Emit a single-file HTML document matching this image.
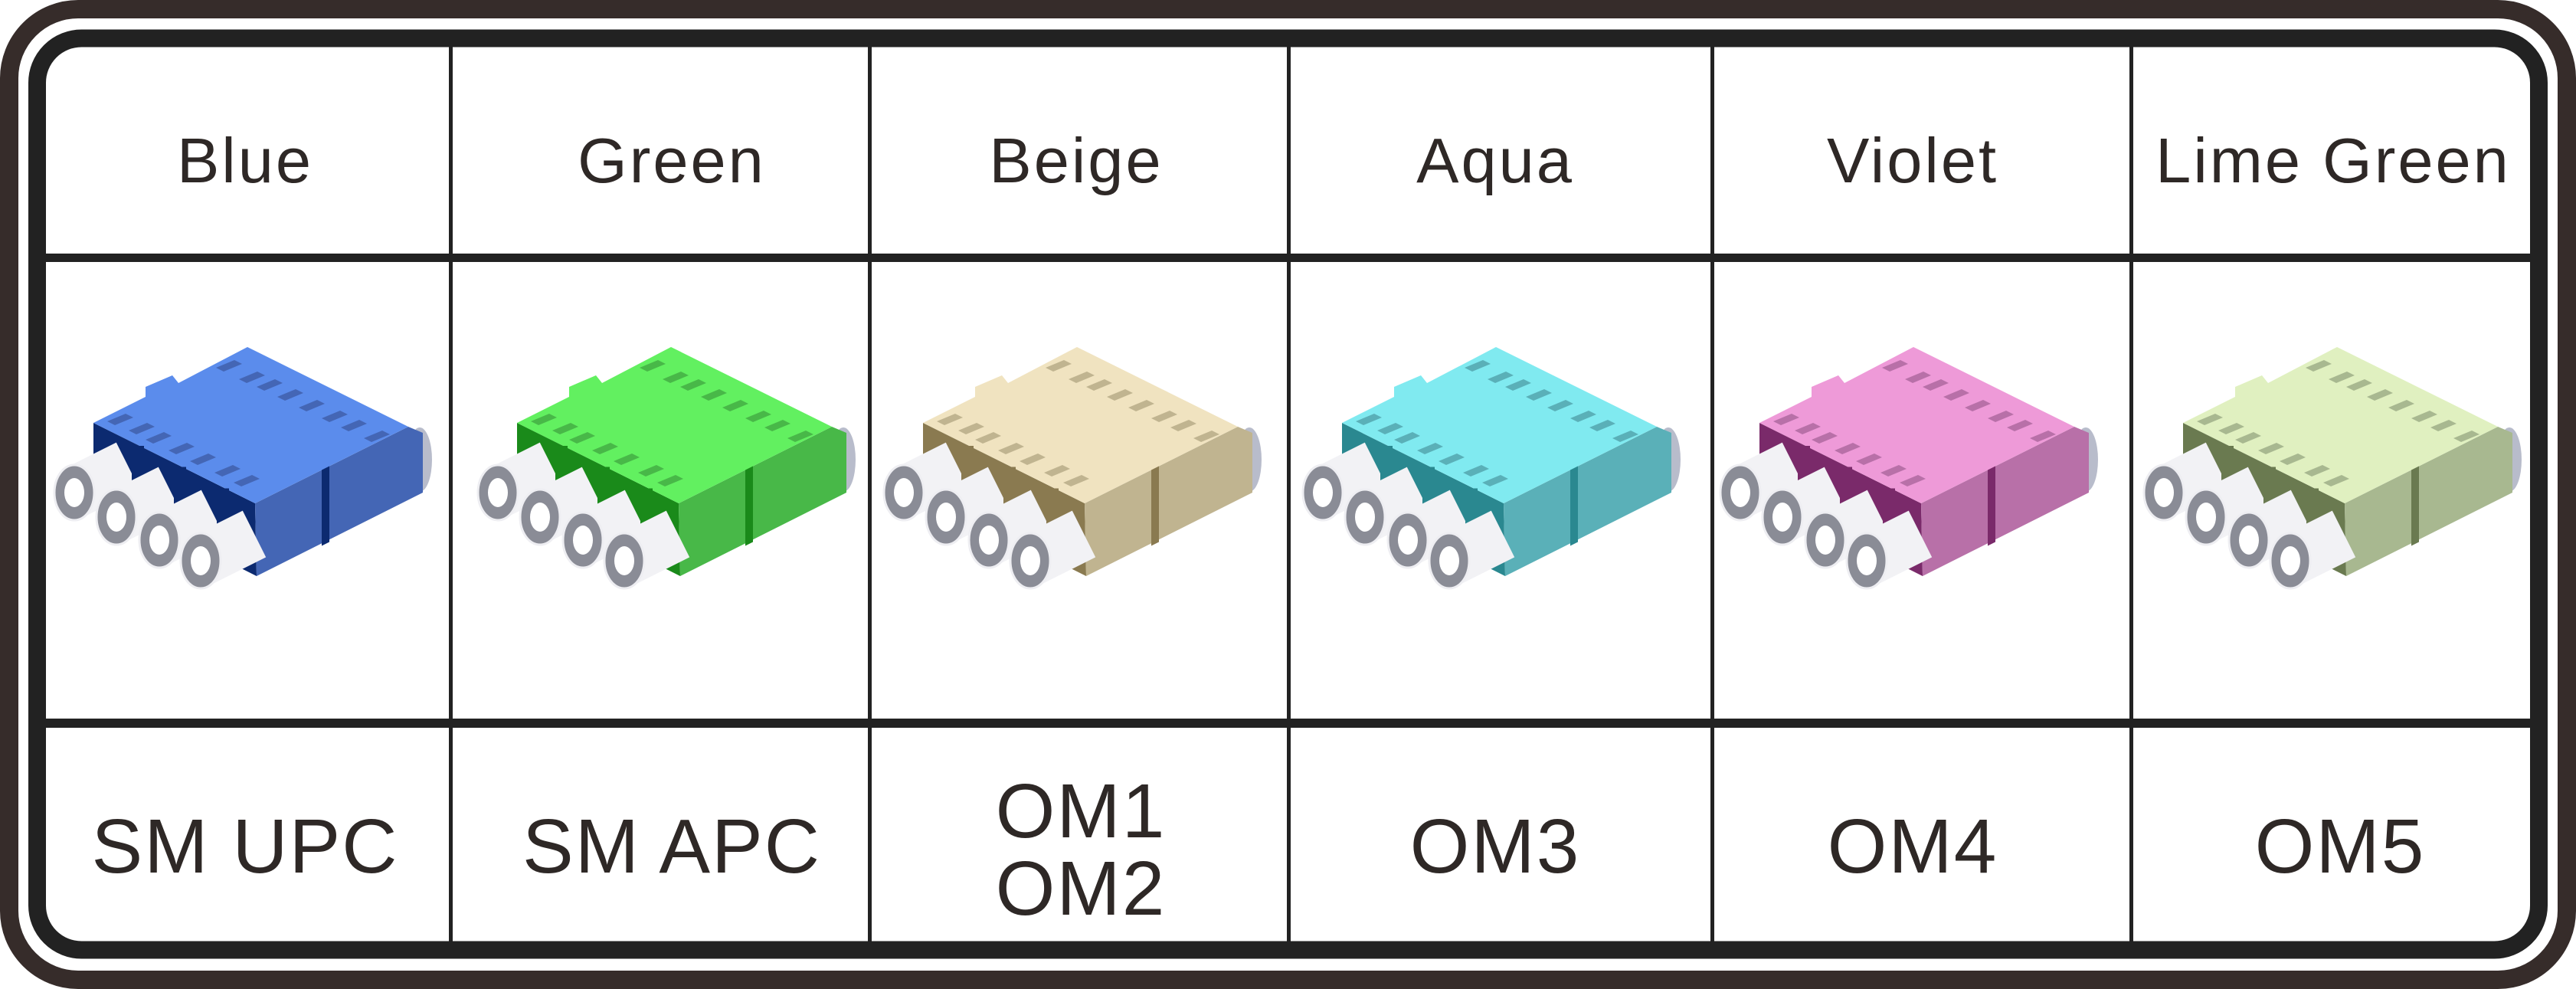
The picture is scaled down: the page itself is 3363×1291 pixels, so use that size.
<!DOCTYPE html>
<html><head><meta charset="utf-8"><style>
html,body{margin:0;padding:0;background:#fff;}
svg{display:block;}
text{font-family:"Liberation Sans",sans-serif;fill:#2e2826;text-anchor:middle;}
.h{font-size:83px;letter-spacing:3px;}
.b{font-size:100px;letter-spacing:2px;}
</style></head><body>
<svg id="s" width="3363" height="1291" viewBox="0 0 3363 1291" xmlns="http://www.w3.org/2000/svg">
<rect x="0" y="0" width="3363" height="1291" fill="#fff"/>
<rect x="12" y="12" width="3339" height="1267" rx="90" fill="none" stroke="#362c2a" stroke-width="24"/>
<rect x="48.5" y="50" width="3266" height="1190" rx="58" fill="none" stroke="#222" stroke-width="23"/>
<rect x="60" y="331" width="3243" height="11" fill="#222"/>
<rect x="60" y="938" width="3243" height="12" fill="#222"/>
<g fill="#222">
<rect x="586" y="60" width="5" height="1170"/>
<rect x="1133" y="60" width="5" height="1170"/>
<rect x="1680" y="60" width="5" height="1170"/>
<rect x="2233" y="60" width="5" height="1170"/>
<rect x="2780" y="60" width="5" height="1170"/>
</g>
<g id="conns"></g>
<text class="h" x="320" y="238">Blue</text>
<text class="h" x="877" y="238">Green</text>
<text class="h" x="1405" y="238">Beige</text>
<text class="h" x="1952" y="238">Aqua</text>
<text class="h" x="2497" y="238">Violet</text>
<text class="h" x="3046" y="238">Lime Green</text>
<text class="b" x="320" y="1139">SM UPC</text>
<text class="b" x="877" y="1139">SM APC</text>
<text class="b" x="1411" y="1093">OM1</text>
<text class="b" x="1411" y="1194">OM2</text>
<text class="b" x="1952" y="1139">OM3</text>
<text class="b" x="2497" y="1139">OM4</text>
<text class="b" x="3055" y="1139">OM5</text>
</svg>
<script>
var cols=[
 [71,'#5b8cec','#4466b5','#0c2a70'],
 [624,'#62f060','#48b848','#1a8a1a'],
 [1154,'#f0e3c0','#c0b490','#8a7a50'],
 [1701,'#80eaf0','#5ab0b8','#2a8890'],
 [2246,'#ee9ad8','#b870a8','#7a2a6a'],
 [2799,'#e0f0c0','#a8b890','#6a7a50']];
var out='';
function slot(x,y,c){return '<polygon points="'+x+','+y+' '+(x+24)+','+(y-10)+' '+(x+34)+','+(y-5)+' '+(x+10)+','+(y+5)+'" fill="'+c+'"/>';}
cols.forEach(function(c){
 var dx=c[0]-71;
 var g='<g transform="translate('+dx+',0)">';
 g+='<ellipse cx="548" cy="600" rx="16" ry="42" fill="#b8bccb"/>';
 g+='<polygon points="122,552 333,657 335,752 122,645" fill="'+c[3]+'"/>';
 g+='<polygon points="333,657 533,557 552,565 552,643 335,752" fill="'+c[2]+'"/>';
 g+='<rect x="420" y="610" width="10" height="100" fill="'+c[3]+'" transform="skewY(-26.5)" transform-origin="425 660"/>';
 g+='<polygon points="323,453 533,557 333,657 122,552 190,518 190,505 225,490 233,500" fill="'+c[1]+'"/>';
 var s1=[[140,550],[168,562],[190,574],[220,588],[248,602],[280,617],[305,630]];
 s1.forEach(function(p){g+=slot(p[0],p[1],c[2]);});
 var s2=[[282,480],[312,495],[335,505],[362,518],[390,532],[420,546],[445,558],[475,572]];
 s2.forEach(function(p){g+=slot(p[0],p[1],c[2]);});
 var rc=[[97,643],[152,675],[208,705],[262,732]];
 rc.forEach(function(p,i){
  g+='<line x1="'+p[0]+'" y1="'+p[1]+'" x2="'+(p[0]+70)+'" y2="'+(p[1]-35)+'" stroke="#f2f2f5" stroke-width="68"/>';
  if(i<3){var bx=p[0]+75,by=552+(bx-122)*0.5;g+='<rect x="'+bx+'" y="'+(by+5)+'" width="16" height="80" fill="'+c[3]+'"/>';}
  g+='<ellipse cx="'+p[0]+'" cy="'+p[1]+'" rx="26" ry="36" fill="#8a8c96" stroke="#eeeef2" stroke-width="3"/>';
  g+='<ellipse cx="'+p[0]+'" cy="'+p[1]+'" rx="13" ry="19" fill="#fff"/>';
 });
 g+='</g>';out+=g;
});
document.getElementById('conns').innerHTML=out;
</script>
</body></html>
